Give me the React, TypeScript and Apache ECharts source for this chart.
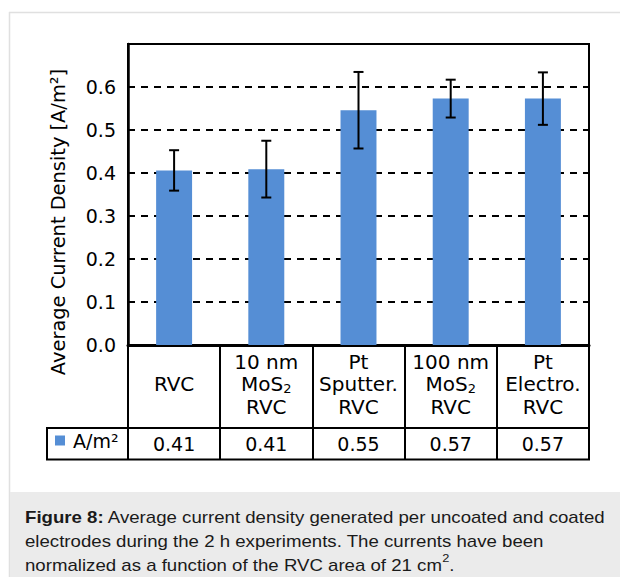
import React, { useEffect, useRef } from 'react';
import * as echarts from 'echarts';

// ---- data ----
const categories = ['RVC', '10 nm\nMoS₂\nRVC', 'Pt\nSputter.\nRVC', '100 nm\nMoS₂\nRVC', 'Pt\nElectro.\nRVC'];
const values = [0.406, 0.409, 0.546, 0.573, 0.573];
const errors = [0.047, 0.066, 0.089, 0.044, 0.061];
const seriesName = 'A/m²';
const yAxisTitle = 'Average Current Density [A/m²]';
const yMin = 0;
const yMax = 0.7;
const yStep = 0.1;
const captionText =
  '{b|Figure 8:} Average current density generated per uncoated and coated\n' +
  'electrodes during the 2 h experiments. The currents have been\n' +
  'normalized as a function of the RVC area of 21 cm{sup|2}.';

const FONT = '"DejaVu Sans", Verdana, sans-serif';
const CAP_FONT = '"Liberation Sans", Arial, Helvetica, sans-serif';
const BAR = '#558ed5';

export default function App() {
  const ref = useRef<HTMLDivElement>(null);

  useEffect(() => {
    const chart = echarts.init(ref.current!, null, { renderer: 'svg' });
    const valueLabels = values.map((v) => v.toFixed(2));
    const errData = values.map((v, i) => [i, v + errors[i], v - errors[i]]);

    chart.setOption({
      animation: false,
      textStyle: { fontFamily: FONT, color: '#000' },
      grid: {
        left: 128,
        right: 31,
        top: 44,
        bottom: 232,
        show: true,
        borderColor: '#000',
        borderWidth: 2,
        backgroundColor: 'transparent',
      },
      legend: {
        data: [seriesName],
        left: 55,
        top: 431,
        padding: 0,
        icon: 'rect',
        itemWidth: 10,
        itemHeight: 10,
        selectedMode: false,
        textStyle: { fontSize: 19, color: '#000', fontFamily: FONT, padding: [0, 0, 0, 3] },
      },
      xAxis: [
        {
          type: 'category',
          data: categories,
          position: 'bottom',
          boundaryGap: true,
          axisLine: { show: true, lineStyle: { color: '#000', width: 3 } },
          axisTick: { show: true, length: 115, lineStyle: { color: '#000', width: 2 } },
          axisLabel: {
            interval: 0,
            margin: 39,
            verticalAlign: 'middle',
            fontSize: 20,
            lineHeight: 22.5,
            color: '#000',
            fontFamily: FONT,
            formatter: (v: string) => v.replace(/₂/g, '{sub|2}'),
            rich: {
              sub: { fontSize: 13, lineHeight: 13, verticalAlign: 'bottom', fontFamily: FONT, color: '#000' },
            },
          },
          splitLine: { show: false },
        },
        {
          type: 'category',
          data: valueLabels,
          position: 'bottom',
          boundaryGap: true,
          axisLine: { show: false },
          axisTick: { show: false },
          axisLabel: {
            interval: 0,
            margin: 99,
            verticalAlign: 'middle',
            fontSize: 19,
            color: '#000',
            fontFamily: FONT,
          },
          splitLine: { show: false },
        },
      ],
      yAxis: {
        type: 'value',
        min: yMin,
        max: yMax,
        interval: yStep,
        axisLine: { show: true, lineStyle: { color: '#000', width: 2.5 } },
        axisTick: { show: false },
        axisLabel: {
          fontSize: 19,
          margin: 12,
          color: '#000',
          fontFamily: FONT,
          formatter: (v: number) => (v >= yMax - 1e-9 ? '' : v.toFixed(1)),
        },
        splitLine: {
          show: true,
          showMinLine: false,
          showMaxLine: false,
          lineStyle: { color: '#000', width: 2, type: [7, 6] },
        },
      },
      series: [
        {
          name: seriesName,
          type: 'bar',
          xAxisIndex: 0,
          data: values,
          barWidth: '39%',
          itemStyle: { color: BAR },
          z: 2,
        },
        {
          type: 'custom',
          xAxisIndex: 0,
          silent: true,
          z: 3,
          data: errData,
          encode: { x: 0, y: [1, 2] },
          renderItem: (params: any, api: any) => {
            const i = api.value(0);
            const hi = api.coord([i, api.value(1)]);
            const lo = api.coord([i, api.value(2)]);
            const half = 5;
            const st = { stroke: '#000', lineWidth: 2 };
            return {
              type: 'group',
              children: [
                { type: 'line', shape: { x1: hi[0], y1: hi[1], x2: lo[0], y2: lo[1] }, style: st },
                { type: 'line', shape: { x1: hi[0] - half, y1: hi[1], x2: hi[0] + half, y2: hi[1] }, style: st },
                { type: 'line', shape: { x1: lo[0] - half, y1: lo[1], x2: lo[0] + half, y2: lo[1] }, style: st },
              ],
            };
          },
        },
      ],
      graphic: [
        // outer figure frame
        { type: 'line', z: -1, shape: { x1: 9, y1: 12.5, x2: 620, y2: 12.5 }, style: { stroke: '#e0e0e0', lineWidth: 1.5 } },
        { type: 'line', z: -1, shape: { x1: 9.5, y1: 12, x2: 9.5, y2: 577 }, style: { stroke: '#e0e0e0', lineWidth: 1.5 } },
        // caption background
        { type: 'rect', z: -1, shape: { x: 10, y: 492, width: 610, height: 85 }, style: { fill: '#ebebeb' } },
        // data table lines
        { type: 'line', shape: { x1: 46, y1: 428, x2: 590, y2: 428 }, style: { stroke: '#000', lineWidth: 2 } },
        { type: 'line', shape: { x1: 46, y1: 459.5, x2: 590, y2: 459.5 }, style: { stroke: '#000', lineWidth: 2 } },
        { type: 'line', shape: { x1: 47, y1: 427, x2: 47, y2: 460 }, style: { stroke: '#000', lineWidth: 2 } },
        // y axis title
        {
          type: 'text',
          x: 58,
          y: 222,
          rotation: Math.PI / 2,
          style: {
            text: yAxisTitle,
            fontSize: 19.4,
            fontFamily: FONT,
            fill: '#000',
            align: 'center',
            verticalAlign: 'middle',
          },
        },
        // caption
        {
          type: 'text',
          x: 25,
          y: 505,
          scaleX: 1.165,
          style: {
            text: captionText,
            fontSize: 16,
            lineHeight: 24,
            fontFamily: CAP_FONT,
            fill: '#1a1a1a',
            align: 'left',
            verticalAlign: 'top',
            rich: {
              b: { fontSize: 16, lineHeight: 24, fontWeight: 'bold', fontFamily: CAP_FONT, fill: '#1a1a1a' },
              sup: { fontSize: 11, lineHeight: 11, verticalAlign: 'top', fontFamily: CAP_FONT, fill: '#1a1a1a' },
            },
          },
        },
      ],
    });

    return () => chart.dispose();
  }, []);

  return (
    <div
      ref={ref}
      style={{ position: 'absolute', left: 0, top: 0, width: 620, height: 577, background: '#fff' }}
    />
  );
}
